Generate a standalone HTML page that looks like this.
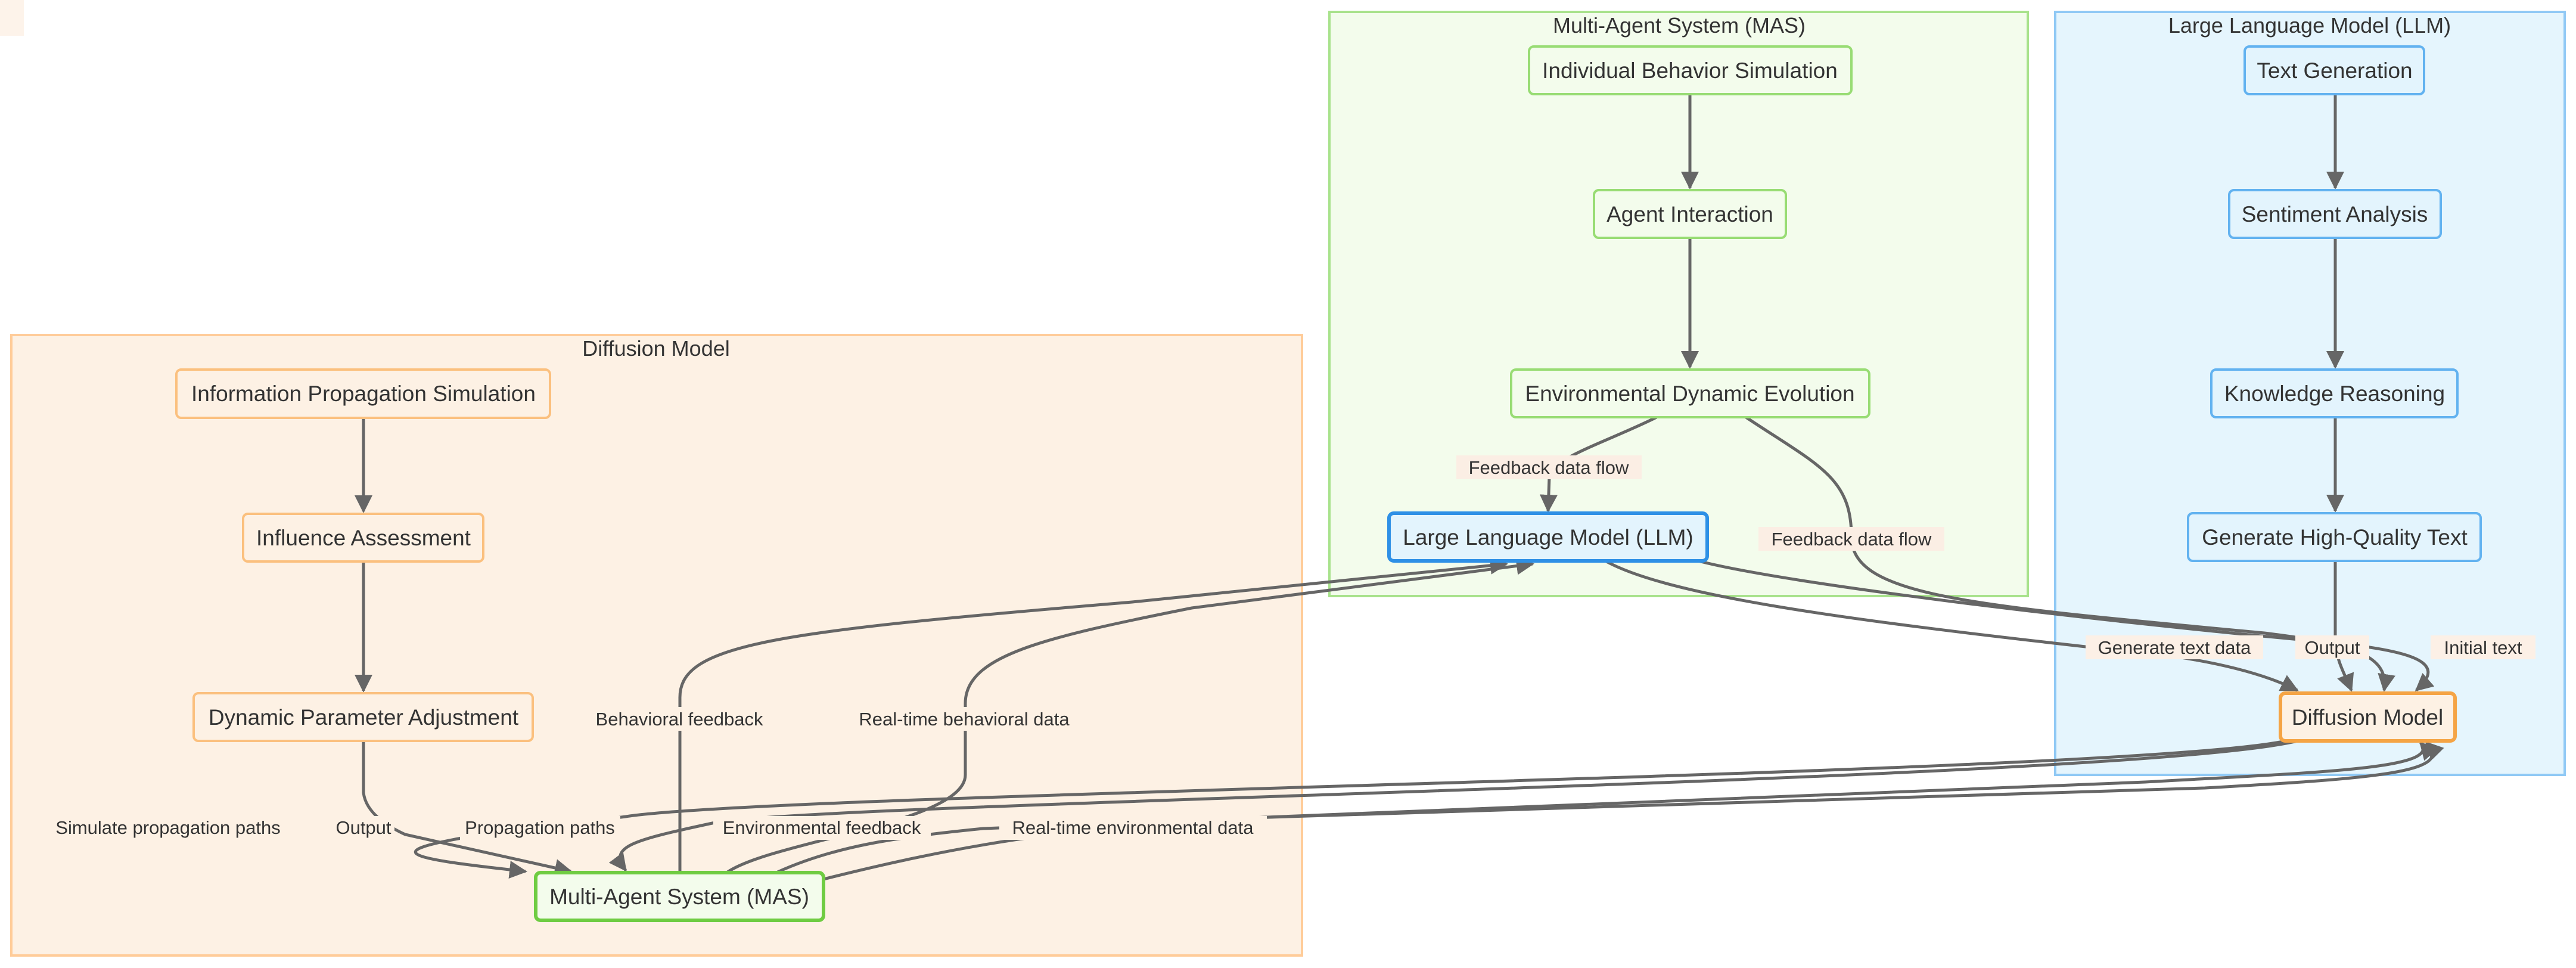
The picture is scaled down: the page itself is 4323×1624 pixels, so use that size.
<!DOCTYPE html>
<html><head><meta charset="utf-8"><style>
html,body{margin:0;padding:0;background:#fff;width:4323px;height:1624px;overflow:hidden}
svg text{font-family:"Liberation Sans",sans-serif;fill:#333}
</style></head><body>
<svg width="4323" height="1624" viewBox="0 0 4323 1624" xmlns="http://www.w3.org/2000/svg">
<defs>
<marker id="a" viewBox="0 0 10 10" refX="9" refY="5" markerWidth="6" markerHeight="6" orient="auto" markerUnits="strokeWidth">
<path d="M0 0 L10 5 L0 10 z" fill="#666"/></marker>
</defs>
<rect x="0" y="0" width="40" height="60" fill="#fdf3ea"/>
<rect x="19" y="562" width="2166" height="1041" fill="#fdf1e4" stroke="#ffcc99" stroke-width="4"/>
<text x="1101" y="597" font-size="36" text-anchor="middle">Diffusion Model</text>
<rect x="2231" y="20" width="1172" height="980" fill="#f3fcec" stroke="#a8e28c" stroke-width="4"/>
<text x="2818" y="55" font-size="36" text-anchor="middle">Multi-Agent System (MAS)</text>
<rect x="3449" y="20" width="855" height="1280" fill="#e5f5fd" stroke="#90c9f5" stroke-width="4"/>
<text x="3876" y="55" font-size="36" text-anchor="middle">Large Language Model (LLM)</text>

<g fill="none" stroke="#666" stroke-width="5">
<path d="M610 701 L610 858" marker-end="url(#a)"/>
<path d="M610 942 L610 1159" marker-end="url(#a)"/>
<path d="M2836 158 L2836 315" marker-end="url(#a)"/>
<path d="M2836 399 L2836 616" marker-end="url(#a)"/>
<path d="M3919 158 L3919 315" marker-end="url(#a)"/>
<path d="M3919 399 L3919 616" marker-end="url(#a)"/>
<path d="M3919 700 L3919 857" marker-end="url(#a)"/>
<path d="M610 1243 L610 1330 Q615 1370 680 1400 L958 1462" marker-end="url(#a)"/>
<path d="M3840 1242 C3600 1300 1300 1330 1050 1370 L780 1405 C640 1430 680 1440 882 1462" marker-end="url(#a)"/>
<path d="M3860 1242 C3600 1310 1400 1345 1200 1380 C1060 1410 1020 1420 1050 1460" marker-end="url(#a)"/>
<path d="M1141 1463 L1141 1170 C1141 1080 1300 1060 1900 1010 L2528 946" marker-end="url(#a)"/>
<path d="M1221 1463 C1300 1410 1620 1380 1620 1300 L1620 1180 C1620 1100 1750 1070 2000 1020 L2572 946" marker-end="url(#a)"/>
<path d="M1305 1463 C1400 1420 1500 1405 1650 1390 L3600 1312 C3900 1295 4100 1290 4062 1246" marker-end="url(#a)"/>
<path d="M1382 1475 C1600 1420 1800 1385 2100 1372 L3700 1322 C4000 1305 4120 1295 4072 1246" marker-end="url(#a)"/>
<path d="M2780 700 C2700 740 2600 770 2600 800 L2598 857" marker-end="url(#a)"/>
<path d="M2930 700 C3050 780 3107 800 3107 900 C3107 1000 3300 1015 3800 1062 C3950 1080 4010 1100 4001 1158" marker-end="url(#a)"/>
<path d="M2694 941 C2800 1000 3100 1040 3500 1085 C3700 1100 3800 1130 3855 1158" marker-end="url(#a)"/>
<path d="M2850 941 C3000 980 3500 1040 3880 1075 C4050 1090 4110 1110 4055 1158" marker-end="url(#a)"/>
<path d="M3919 941 L3919 1070 C3920 1110 3935 1130 3946 1158" marker-end="url(#a)"/>
</g>

<g font-size="31">
<rect x="2444" y="764" width="311" height="40" fill="#fbeee4"/>
<text x="2599" y="795" text-anchor="middle">Feedback data flow</text>
<rect x="2951" y="884" width="312" height="40" fill="#fbeee4"/>
<text x="3107" y="915" text-anchor="middle">Feedback data flow</text>
<rect x="3500" y="1066" width="298" height="40" fill="#fcf0e6"/>
<text x="3649" y="1097" text-anchor="middle">Generate text data</text>
<rect x="3852" y="1066" width="124" height="40" fill="#fcf0e6"/>
<text x="3914" y="1097" text-anchor="middle">Output</text>
<rect x="4079" y="1066" width="176" height="40" fill="#fcf0e6"/>
<text x="4167" y="1097" text-anchor="middle">Initial text</text>
<rect x="989" y="1186" width="302" height="40" fill="#fdf1e4"/>
<text x="1140" y="1217" text-anchor="middle">Behavioral feedback</text>
<rect x="1424" y="1186" width="389" height="40" fill="#fdf1e4"/>
<text x="1618" y="1217" text-anchor="middle">Real-time behavioral data</text>
<text x="282" y="1399" text-anchor="middle">Simulate propagation paths</text>
<rect x="557" y="1369" width="105" height="40" fill="#fdf1e4"/>
<text x="610" y="1399" text-anchor="middle">Output</text>
<rect x="772" y="1369" width="269" height="40" fill="#fdf1e4"/>
<text x="906" y="1399" text-anchor="middle">Propagation paths</text>
<rect x="1197" y="1369" width="365" height="40" fill="#fdf1e4"/>
<text x="1379" y="1399" text-anchor="middle">Environmental feedback</text>
<rect x="1677" y="1369" width="449" height="40" fill="#fdf1e4"/>
<text x="1901" y="1399" text-anchor="middle">Real-time environmental data</text>
</g>

<g font-size="37" text-anchor="middle">
<rect x="296" y="620" width="627" height="81" rx="8" fill="#fdf1e4" stroke="#fbc07e" stroke-width="4"/>
<text x="610" y="673">Information Propagation Simulation</text>
<rect x="408" y="862" width="403" height="80" rx="8" fill="#fdf1e4" stroke="#fbc07e" stroke-width="4"/>
<text x="610" y="915">Influence Assessment</text>
<rect x="325" y="1163" width="569" height="80" rx="8" fill="#fdf1e4" stroke="#fbc07e" stroke-width="4"/>
<text x="610" y="1216">Dynamic Parameter Adjustment</text>
<rect x="899" y="1464" width="483" height="80" rx="8" fill="#f3fcec" stroke="#6fcc42" stroke-width="6"/>
<text x="1140" y="1517">Multi-Agent System (MAS)</text>

<rect x="2566" y="78" width="541" height="80" rx="8" fill="#f3fcec" stroke="#98dc74" stroke-width="4"/>
<text x="2836" y="131">Individual Behavior Simulation</text>
<rect x="2675" y="319" width="322" height="80" rx="8" fill="#f3fcec" stroke="#98dc74" stroke-width="4"/>
<text x="2836" y="372">Agent Interaction</text>
<rect x="2536" y="620" width="601" height="80" rx="8" fill="#f3fcec" stroke="#98dc74" stroke-width="4"/>
<text x="2836" y="673">Environmental Dynamic Evolution</text>
<rect x="2331" y="861" width="534" height="80" rx="8" fill="#e3f4fd" stroke="#2e90e6" stroke-width="6"/>
<text x="2598" y="914">Large Language Model (LLM)</text>

<rect x="3767" y="78" width="301" height="80" rx="8" fill="#e3f4fd" stroke="#62b2f0" stroke-width="4"/>
<text x="3918" y="131">Text Generation</text>
<rect x="3741" y="319" width="355" height="80" rx="8" fill="#e3f4fd" stroke="#62b2f0" stroke-width="4"/>
<text x="3918" y="372">Sentiment Analysis</text>
<rect x="3711" y="620" width="413" height="80" rx="8" fill="#e3f4fd" stroke="#62b2f0" stroke-width="4"/>
<text x="3918" y="673">Knowledge Reasoning</text>
<rect x="3672" y="861" width="491" height="80" rx="8" fill="#e3f4fd" stroke="#62b2f0" stroke-width="4"/>
<text x="3918" y="914">Generate High-Quality Text</text>
<rect x="3827" y="1163" width="293" height="80" rx="8" fill="#fdf1e4" stroke="#f5a445" stroke-width="6"/>
<text x="3973" y="1216">Diffusion Model</text>
</g>
</svg>
</body></html>
